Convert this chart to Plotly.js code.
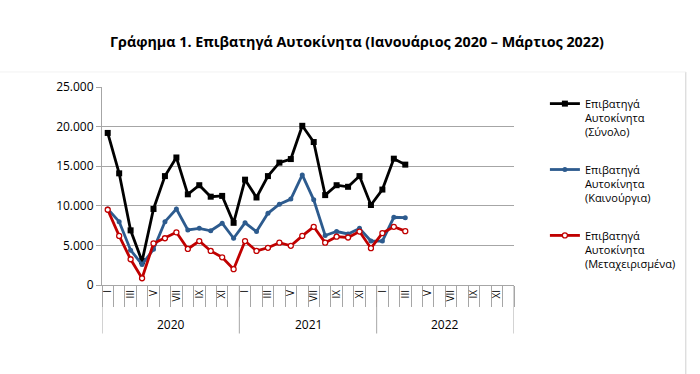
<!DOCTYPE html>
<html>
<head>
<meta charset="utf-8">
<script src="https://cdn.plot.ly/plotly-3.0.1.min.js"></script>
<style>html,body{margin:0;padding:0;background:#fff;}#chart{width:700px;height:374px;}</style>
</head>
<body>
<div id="chart"></div>
<script>
// ---- data ----
const years = ['2020', '2021', '2022'];
const monthsPerYear = 12;
const monthTickLabels = ['I', 'III', 'V', 'VII', 'IX', 'XI'];
const seriesNames = [
  'Επιβατηγά<br>Αυτοκίνητα<br>(Σύνολο)',
  'Επιβατηγά<br>Αυτοκίνητα<br>(Καινούργια)',
  'Επιβατηγά<br>Αυτοκίνητα<br>(Μεταχειρισμένα)'
];
const total = [19200, 14100, 6900, 3000, 9600, 13750, 16100, 11450, 12600, 11150, 11250, 7850,
               13300, 11050, 13750, 15450, 15900, 20100, 18050, 11350, 12600, 12400, 13750, 10100,
               12050, 15950, 15200];
const newCars = [9600, 8000, 4400, 2600, 4500, 8000, 9600, 6950, 7150, 6850, 7800, 5900,
                 7850, 6750, 9050, 10200, 10850, 13900, 10750, 6250, 6750, 6450, 7150, 5550,
                 5550, 8550, 8500];
const usedCars = [9500, 6200, 3250, 850, 5250, 5900, 6650, 4550, 5550, 4300, 3500, 2000,
                  5550, 4300, 4700, 5350, 4950, 6200, 7350, 5350, 6100, 6000, 6750, 4650,
                  6550, 7350, 6800];

const nMonths = years.length * monthsPerYear;
const xOf = arr => arr.map((_, i) => i + 0.5);

const tickVals = [], tickText = [];
years.forEach((y, yi) => monthTickLabels.forEach((m, mi) => {
  tickVals.push(yi * monthsPerYear + mi * 2 + 0.5);
  tickText.push(m);
}));
const boundaries = [];
for (let i = 0; i <= nMonths; i++) boundaries.push(i);

const traces = [
  {x: xOf(total), y: total, name: seriesNames[0], legendgroup: 'a', mode: 'lines+markers',
   line: {color: '#000000', width: 2.8}, marker: {symbol: 'square', size: 6, color: '#000000'}},
  {x: xOf(newCars), y: newCars, name: seriesNames[1], legendgroup: 'b', mode: 'lines+markers',
   line: {color: '#2D5B8E', width: 2.8}, marker: {symbol: 'circle', size: 5, color: '#2D5B8E'}},
  {x: xOf(usedCars), y: usedCars, name: seriesNames[2], legendgroup: 'c', mode: 'lines+markers',
   line: {color: '#C00000', width: 2.8},
   marker: {symbol: 'circle', size: 5, color: '#ffffff', line: {color: '#C00000', width: 1.3}}}
];

const shapes = [];
for (let yi = 0; yi <= years.length; yi++) {
  shapes.push({type: 'line', xref: 'x', yref: 'paper', x0: yi * monthsPerYear, x1: yi * monthsPerYear,
               y0: 0, y1: -0.245, line: {color: '#a6a6a6', width: 1}});
}
// outer chart frame (right and top)
shapes.push({type: 'line', xref: 'paper', yref: 'paper', x0: 1.417, x1: 1.417, y0: 1.076, y1: -0.5,
             line: {color: '#d0d0d0', width: 1}});
shapes.push({type: 'line', xref: 'paper', yref: 'paper', x0: -0.3, x1: 1.417, y0: 1.076, y1: 1.076,
             line: {color: '#f2f2f2', width: 1}});

const annotations = years.map((y, yi) => ({
  text: y, xref: 'x', yref: 'paper', x: yi * monthsPerYear + monthsPerYear / 2, y: -0.2,
  showarrow: false, yanchor: 'middle', font: {family: 'Open Sans, sans-serif', size: 12, color: '#000'}
}));

const layout = {
  width: 700, height: 374,
  margin: {l: 101.5, r: 186, t: 87, b: 89},
  paper_bgcolor: '#fff', plot_bgcolor: '#fff',
  separators: ',.',
  showlegend: true,
  title: {text: 'Γράφημα 1. Επιβατηγά Αυτοκίνητα (Ιανουάριος 2020 – Μάρτιος 2022)',
          x: 0.51, xanchor: 'center', y: 0.888, yanchor: 'middle',
          font: {family: 'Open Sans, sans-serif', size: 14.3, color: '#000', weight: 'bold'}},
  xaxis: {range: [0, nMonths], tickmode: 'array', tickvals: tickVals, ticktext: tickText,
          tickangle: -90, ticks: '', showgrid: false, zeroline: false,
          showline: true, linecolor: '#a6a6a6', linewidth: 1,
          tickfont: {family: 'Open Sans, sans-serif', size: 10, color: '#000'},
          minor: {tickmode: 'array', tickvals: boundaries, ticks: 'outside', ticklen: 21,
                  tickcolor: '#a6a6a6', tickwidth: 1, showgrid: false}},
  yaxis: {range: [0, 25000], tickmode: 'linear', tick0: 0, dtick: 5000, tickformat: ',d',
          showgrid: true, gridcolor: '#a6a6a6', gridwidth: 1, zeroline: false,
          showline: true, linecolor: '#a6a6a6', linewidth: 1, ticks: 'outside', ticklen: 5,
          tickcolor: '#a6a6a6',
          tickfont: {family: 'Open Sans, sans-serif', size: 12, color: '#000'}},
  legend: {x: 1.075, y: 0.985, xanchor: 'left', yanchor: 'top', valign: 'top',
           tracegroupgap: 20, itemwidth: 30,
           font: {family: 'Open Sans, sans-serif', size: 11, color: '#000'},
           bgcolor: 'rgba(0,0,0,0)'},
  shapes: shapes,
  annotations: annotations
};

Plotly.newPlot('chart', traces, layout, {displayModeBar: false, responsive: false});
</script>
</body>
</html>
